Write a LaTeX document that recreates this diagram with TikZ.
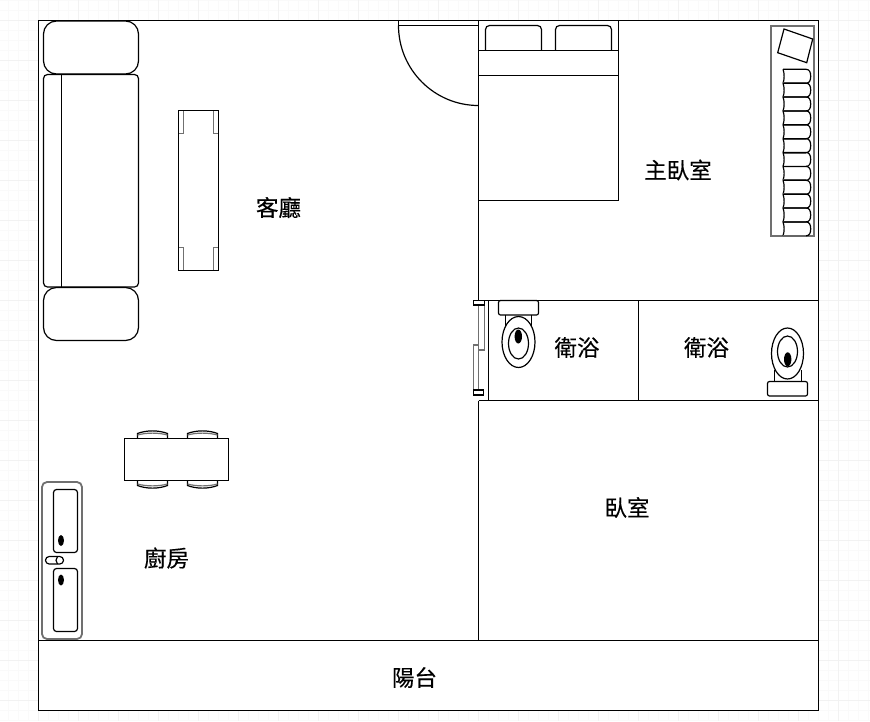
\documentclass[tikz,border=0pt]{standalone}
\usepackage{fontspec}
\newfontfamily\cjk[FakeBold=0.3]{Noto Sans CJK TC}
\definecolor{gridminor}{HTML}{FAFAFA}
\definecolor{gridmajor}{HTML}{F2F2F2}
\definecolor{fitting}{HTML}{707070}
\tikzset{
    wall/.style={line width=1.5pt, black},
    furn/.style={line width=1.2pt, black},
    fitline/.style={line width=1.8pt, fitting},
    blob/.style={fill=black, draw=none},
    roomlabel/.style={font=\cjk\fontsize{22.5}{24}\selectfont, inner sep=0pt},
}

\begin{document}
\begin{tikzpicture}[x=1pt, y=-1pt]
    \useasboundingbox (0,0) rectangle (870,721);
    % background grid
    \foreach \gx in {-1.5,8.5,...,868.5}
        \draw[gridminor, line width=1pt] (\gx,0) -- (\gx,721);
    \foreach \gy in {0.5,10.5,...,720.5}
        \draw[gridminor, line width=1pt] (0,\gy) -- (870,\gy);
    \foreach \gx in {38.5,78.5,...,838.5}
        \draw[gridmajor, line width=1pt] (\gx,0) -- (\gx,721);
    \foreach \gy in {20.5,60.5,...,700.5}
        \draw[gridmajor, line width=1pt] (0,\gy) -- (870,\gy);
    % rooms
    \draw[wall, fill=white] (38.5,20.5) rectangle (818.5,640.5);
    \draw[wall, fill=white] (38.5,640.5) rectangle (818.5,710.5);
    \draw[wall] (478.5,20.5) -- (478.5,300.5);
    \draw[wall] (478.5,400.5) -- (478.5,640.5);
    \draw[wall] (473.5,300.5) -- (818.5,300.5);
    \draw[wall] (478.5,400.5) -- (818.5,400.5);
    \draw[wall] (488.5,300.5) -- (488.5,400.5);
    \draw[wall] (638.5,300.5) -- (638.5,400.5);
    % door
    \draw[furn] (398.5,20.5) -- (398.5,25.5) -- (478.5,25.5);
    \draw[furn] (398.5,25.5) arc[start angle=180, end angle=90, radius=80];
    % sofa
    \draw[furn, rounded corners=13pt] (43.5,21) rectangle (138.5,74);
    \draw[furn, rounded corners=4pt] (43.5,74.5) rectangle (138.5,287);
    \draw[furn] (61.5,74.5) -- (61.5,287);
    \draw[furn, rounded corners=13pt] (43.5,287.5) rectangle (138.5,340.5);
    % coffee table
    \draw[fitline] (183.5,110.5) -- (183.5,133.5) -- (178.5,133.5);
    \draw[fitline] (213.5,110.5) -- (213.5,133.5) -- (218.5,133.5);
    \draw[fitline] (183.5,270.5) -- (183.5,247.5) -- (178.5,247.5);
    \draw[fitline] (213.5,270.5) -- (213.5,247.5) -- (218.5,247.5);
    \draw[furn] (178.5,110.5) rectangle (218.5,270.5);
    % dining table
    \foreach \cx in {137.5,187.5} {
        \draw[furn] (\cx,438.5) -- (\cx,433.5) .. controls ({\cx+9},430) and ({\cx+21},430) .. ({\cx+30},433.5) -- ({\cx+30},438.5);
        \draw[furn, fitting] (\cx,435) .. controls ({\cx+9},432.5) and ({\cx+21},432.5) .. ({\cx+30},435);
        \draw[furn] (\cx,480.5) -- (\cx,485.5) .. controls ({\cx+9},489) and ({\cx+21},489) .. ({\cx+30},485.5) -- ({\cx+30},480.5);
        \draw[furn, fitting] (\cx,484) .. controls ({\cx+9},486.5) and ({\cx+21},486.5) .. ({\cx+30},484);
    }
    \draw[furn] (124.5,438.5) rectangle (228.5,480.5);
    % kitchen counter
    \draw[fitline, rounded corners=5pt] (42,482) rectangle (82,639);
    \draw[furn, rounded corners=3pt] (53.5,489.5) rectangle (77.5,552.5);
    \draw[furn, rounded corners=3pt] (53.5,568.5) rectangle (77.5,631.5);
    \fill[blob] (61,540.5) ellipse[x radius=3, y radius=5.5];
    \fill[blob] (61,580) ellipse[x radius=3, y radius=5.5];
    \draw[furn, rounded corners=3.7pt] (45.5,556.5) rectangle (63.5,564);
    \draw[furn] (57.5,556.5) .. controls (55.5,558.5) and (55.5,562) .. (57.5,564);
    % bed
    \draw[wall] (478.5,200.5) -- (618.5,200.5) -- (618.5,20.5);
    \draw[wall] (478.5,50.5) -- (618.5,50.5);
    \draw[wall] (478.5,75.5) -- (618.5,75.5);
    \draw[furn, rounded corners=4pt] (485.5,50.5) -- (485.5,25.5) -- (541.5,25.5) -- (541.5,50.5);
    \draw[furn, rounded corners=4pt] (555.5,50.5) -- (555.5,25.5) -- (611.5,25.5) -- (611.5,50.5);
    % wardrobe
    \draw[line width=2pt, fitting] (771,26) rectangle (814,235.5);
    \draw[furn] (784,29) -- (812.7,39) -- (806.7,62.7) -- (777.7,52.7) -- cycle;
    \foreach \hy in {69.3,83.2,97,110.9,124.8,138.7,152.5,166.4,180.3,194.2,208,221.9} {
        \draw[furn] (783,\hy) -- (806,\hy) .. controls (809.5,\hy) and (810.7,{\hy+3}) .. (810.7,{\hy+7}) .. controls (810.7,{\hy+11}) and (809.5,{\hy+13.9}) .. (806,{\hy+13.9});
        \draw[furn] (783,\hy) .. controls (784.5,{\hy+4}) and (784.5,{\hy+10}) .. (783,{\hy+13.9});
        \draw[line width=1.8pt, black!60] (783,{\hy+13.9}) -- (806,{\hy+13.9});
    }
    % bath door
    \draw[fitline] (478.5,305) -- (478.5,350) -- (484.5,350) -- (484.5,305);
    \draw[fitline] (473.5,390) -- (473.5,345) -- (478.5,345) -- (478.5,390);
    \draw[furn] (473.5,300.5) rectangle (484.5,305);
    \draw[furn] (473.5,390) rectangle (483.5,395);
    % toilet 1
    \draw[furn] (505.5,315) -- (505.5,328);
    \draw[furn] (531.5,315) -- (531.5,328);
    \draw[furn, rounded corners=2pt] (498.5,300.5) rectangle (538.5,315);
    \draw[furn, fill=white] (518.5,342) ellipse[x radius=16.5, y radius=25.5];
    \draw[furn] (518.5,343.5) ellipse[x radius=10, y radius=15.5];
    \fill[blob] (518.3,336.5) ellipse[x radius=3.7, y radius=7];
    % toilet 2
    \draw[furn] (774.5,370) -- (774.5,381.5);
    \draw[furn] (801.5,370) -- (801.5,381.5);
    \draw[furn, rounded corners=2pt] (767.5,381.5) rectangle (807.5,396);
    \draw[furn, fill=white] (787.5,353.5) ellipse[x radius=16, y radius=25.5];
    \draw[furn] (787.5,351.5) ellipse[x radius=10, y radius=15.5];
    \fill[blob] (787.7,359.3) ellipse[x radius=3.7, y radius=7];
    % labels
    \node[roomlabel] (living) at (278.5,207.5) {客廳};
    \node[roomlabel] (master) at (678,170) {主臥室};
    \node[roomlabel] (bathone) at (577,347.5) {衛浴};
    \node[roomlabel] (bathtwo) at (706.5,347.5) {衛浴};
    \node[roomlabel] (bedroom) at (627,507.5) {臥室};
    \node[roomlabel] (kitchen) at (166.5,558) {廚房};
    \node[roomlabel] (balcony) at (414.5,677.5) {陽台};
\end{tikzpicture}
\end{document}
